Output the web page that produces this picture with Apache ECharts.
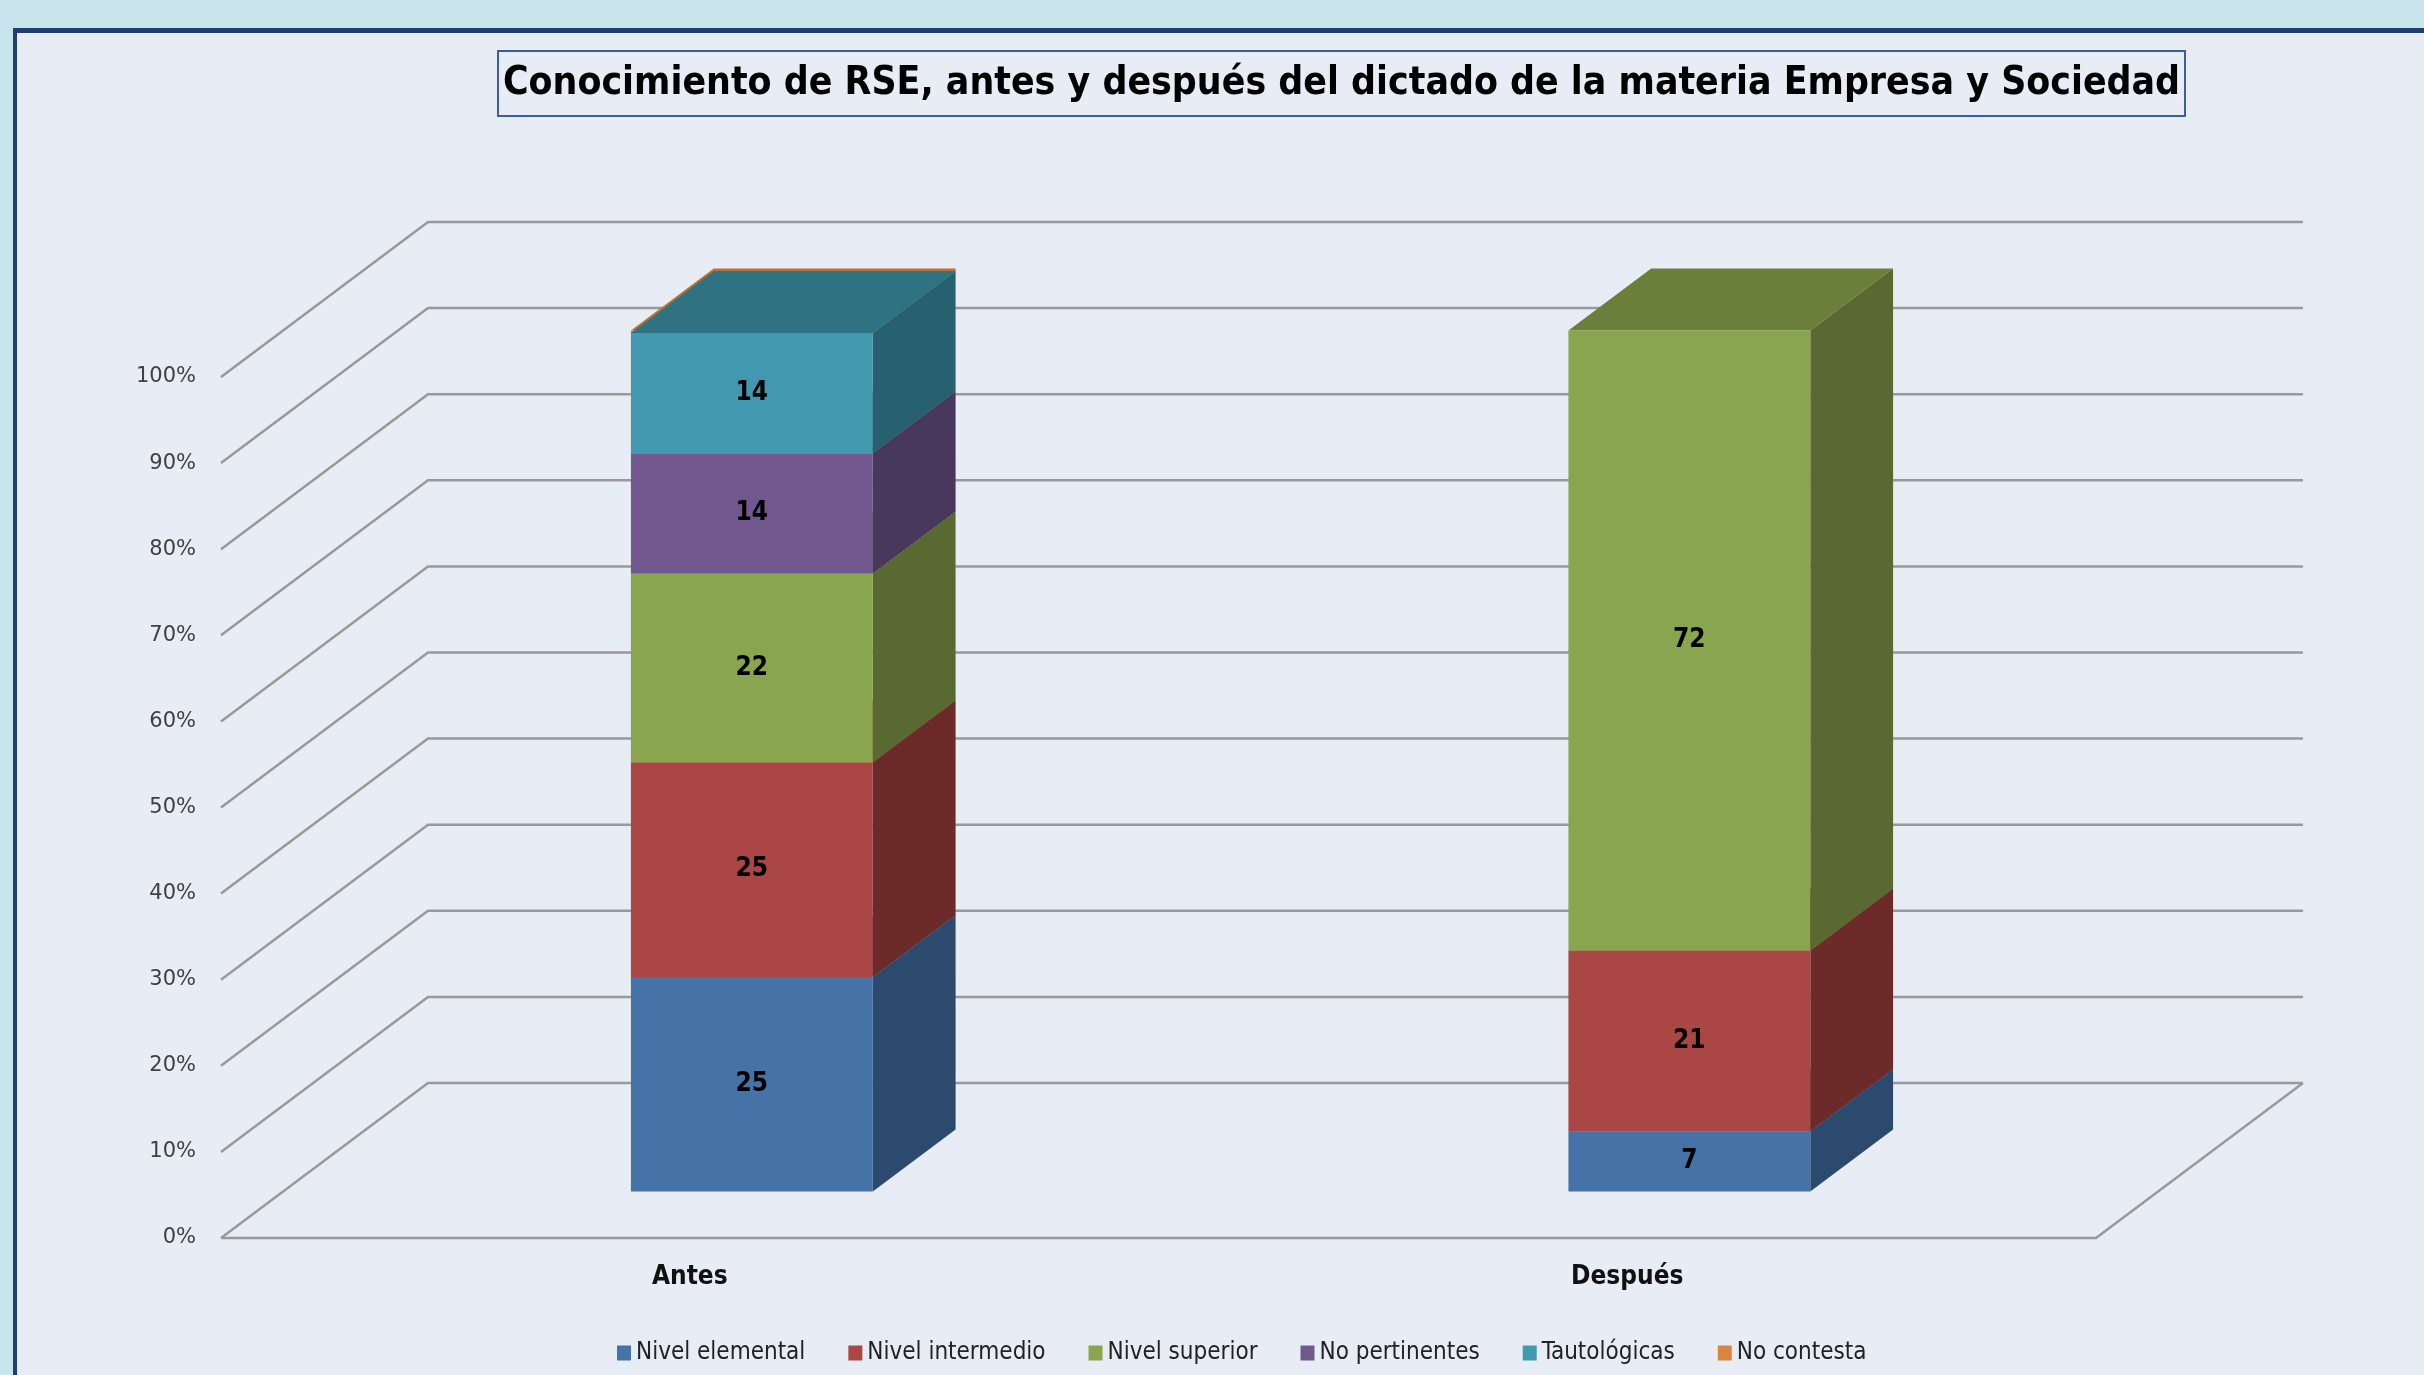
<!DOCTYPE html>
<html lang="es">
<head>
<meta charset="UTF-8" />
<title>Conocimiento de RSE</title>
<script src="https://cdn.jsdelivr.net/npm/echarts@6/dist/echarts.min.js"></script>
<style>
  html, body { margin: 0; padding: 0; background: #e8edf5; }
  #chart { width: 2424px; height: 1375px; }
</style>
</head>
<body>
<div id="chart"></div>
<script>
// datos
var categorias = ["Antes", "Después"];
var nombres = ["Nivel elemental", "Nivel intermedio", "Nivel superior", "No pertinentes", "Tautológicas", "No contesta"];
var nivelElemental = [25, 7];
var nivelIntermedio = [25, 21];
var nivelSuperior = [22, 72];
var noPertinentes = [14, 0];
var tautologicas = [14, 0];
var noContesta = [0.3, 0];
var ticksY = [0, 10, 20, 30, 40, 50, 60, 70, 80, 90, 100];

// colores: cara frontal, lateral, superior
var caras = [
  ["#4572a7", "#2c4a6e", "#375d89"],
  ["#aa4643", "#6c2a28", "#8a3835"],
  ["#89a54e", "#586a32", "#6a7f3a"],
  ["#71588f", "#48385c", "#5b4775"],
  ["#4198af", "#27616f", "#2f7383"],
  ["#db843d", "#a85f26", "#c0702e"]
];

var valores = [nivelElemental, nivelIntermedio, nivelSuperior, noPertinentes, tautologicas, noContesta];

// profundidad del piso (proyeccion oblicua)
var PX = 207, PY = 155;
var ANCHO = 0.258;
var FONT_C = '"Liberation Sans Narrow", "DejaVu Sans Condensed", "Noto Sans", sans-serif';

// apilar al 100%
var totales = categorias.map(function (c, i) {
  var t = 0;
  valores.forEach(function (arr) { t += arr[i]; });
  return t;
});
var acum = categorias.map(function () { return 0; });
var datosSeries = valores.map(function (arr) {
  return arr.map(function (v, i) {
    var lo = acum[i];
    var hi = lo + v / totales[i] * 100;
    acum[i] = hi;
    return [i, lo, hi, v];
  });
});

function renderBarra(s) {
  return function (params, api) {
    var cat = api.value(0), lo = api.value(1), hi = api.value(2), v = api.value(3);
    if (hi - lo <= 0) return;
    var w = api.size([1, 0])[0] * ANCHO;
    var pLo = api.coord([cat, lo]);
    var pHi = api.coord([cat, hi]);
    var fx = PX * 0.3, fy = PY * 0.3;
    var dx = PX * 0.4, dy = PY * 0.4;
    var x0 = pLo[0] - w / 2 + fx, x1 = x0 + w;
    var yB = pLo[1] - fy, yT = pHi[1] - fy;
    var hijos = [
      { type: "polygon", shape: { points: [[x1, yB], [x1, yT], [x1 + dx, yT - dy], [x1 + dx, yB - dy]] },
        style: { fill: caras[s][1] } },
      { type: "polygon", shape: { points: [[x0, yT], [x1, yT], [x1 + dx, yT - dy], [x0 + dx, yT - dy]] },
        style: { fill: caras[s][2] } },
      { type: "rect", shape: { x: x0, y: yT, width: w, height: yB - yT },
        style: { fill: caras[s][0] } }
    ];
    if (v >= 1) {
      hijos.push({ type: "text", x: (x0 + x1) / 2, y: (yT + yB) / 2,
        style: { text: String(v), fill: "#000", font: 'bold 26px ' + FONT_C, align: "center", verticalAlign: "middle" } });
    }
    return { type: "group", children: hijos };
  };
}

function renderParedes(params, api) {
  var cs = params.coordSys;
  var v = api.value(1);
  var y = api.coord([0, v])[1];
  var x = cs.x;
  var est = { stroke: "#999999", lineWidth: 2.5, fill: null };
  var hijos = [
    { type: "polyline", shape: { points: [[x, y], [x + PX, y - PY], [x + PX + cs.width, y - PY]] }, style: est }
  ];
  if (v === 0) {
    hijos.push({ type: "polyline", shape: { points: [[x, y], [x + cs.width, y], [x + cs.width + PX, y - PY]] }, style: est });
  }
  return { type: "group", children: hijos };
}

var series = [{
  type: "custom",
  name: "paredes",
  z: 1,
  silent: true,
  renderItem: renderParedes,
  data: ticksY.map(function (t) { return [0, t]; })
}];
nombres.forEach(function (n, s) {
  series.push({
    type: "custom",
    name: n,
    z: s === 5 ? 2 : 3,
    itemStyle: { color: caras[s][0] },
    renderItem: renderBarra(s),
    data: datosSeries[s]
  });
});

var chart = echarts.init(document.getElementById("chart"));
chart.setOption({
  backgroundColor: "#e8edf5",
  animation: false,
  graphic: [
    { type: "rect", shape: { x: 0, y: 0, width: 2424, height: 29 }, style: { fill: "#c9e4ed" }, z: 0 },
    { type: "rect", shape: { x: 0, y: 0, width: 13, height: 1375 }, style: { fill: "#c9e4ed" }, z: 0 },
    { type: "rect", shape: { x: 13, y: 28, width: 2411, height: 5 }, style: { fill: "#1f3f6f" }, z: 0 },
    { type: "rect", shape: { x: 13, y: 28, width: 4, height: 1347 }, style: { fill: "#1f3f6f" }, z: 0 }
  ],
  title: {
    text: "Conocimiento de RSE, antes y después del dictado de la materia Empresa y Sociedad",
    left: 498,
    top: 51,
    padding: [13, 5, 13, 5],
    borderColor: "#3b5f99",
    borderWidth: 2,
    textStyle: { fontSize: 38.8, fontWeight: "bold", color: "#000", fontFamily: FONT_C }
  },
  legend: {
    data: nombres,
    left: 612,
    top: 1336,
    icon: "rect",
    itemWidth: 14,
    itemHeight: 15,
    itemGap: 43,
    textStyle: { fontSize: 24, color: "#222", fontFamily: FONT_C }
  },
  grid: { left: 221, right: 328, top: 377, bottom: 137 },
  xAxis: {
    type: "category",
    data: categorias,
    axisLine: { show: false },
    axisTick: { show: false },
    axisLabel: { margin: 26, fontSize: 26, fontWeight: "bold", color: "#111", fontFamily: FONT_C }
  },
  yAxis: {
    type: "value",
    min: 0,
    max: 100,
    interval: 10,
    axisLine: { show: false },
    axisTick: { show: false },
    splitLine: { show: false },
    axisLabel: { margin: 25, fontSize: 21, color: "#404040", fontFamily: "DejaVu Sans", formatter: "{value}%" }
  },
  series: series
});
</script>
</body>
</html>
